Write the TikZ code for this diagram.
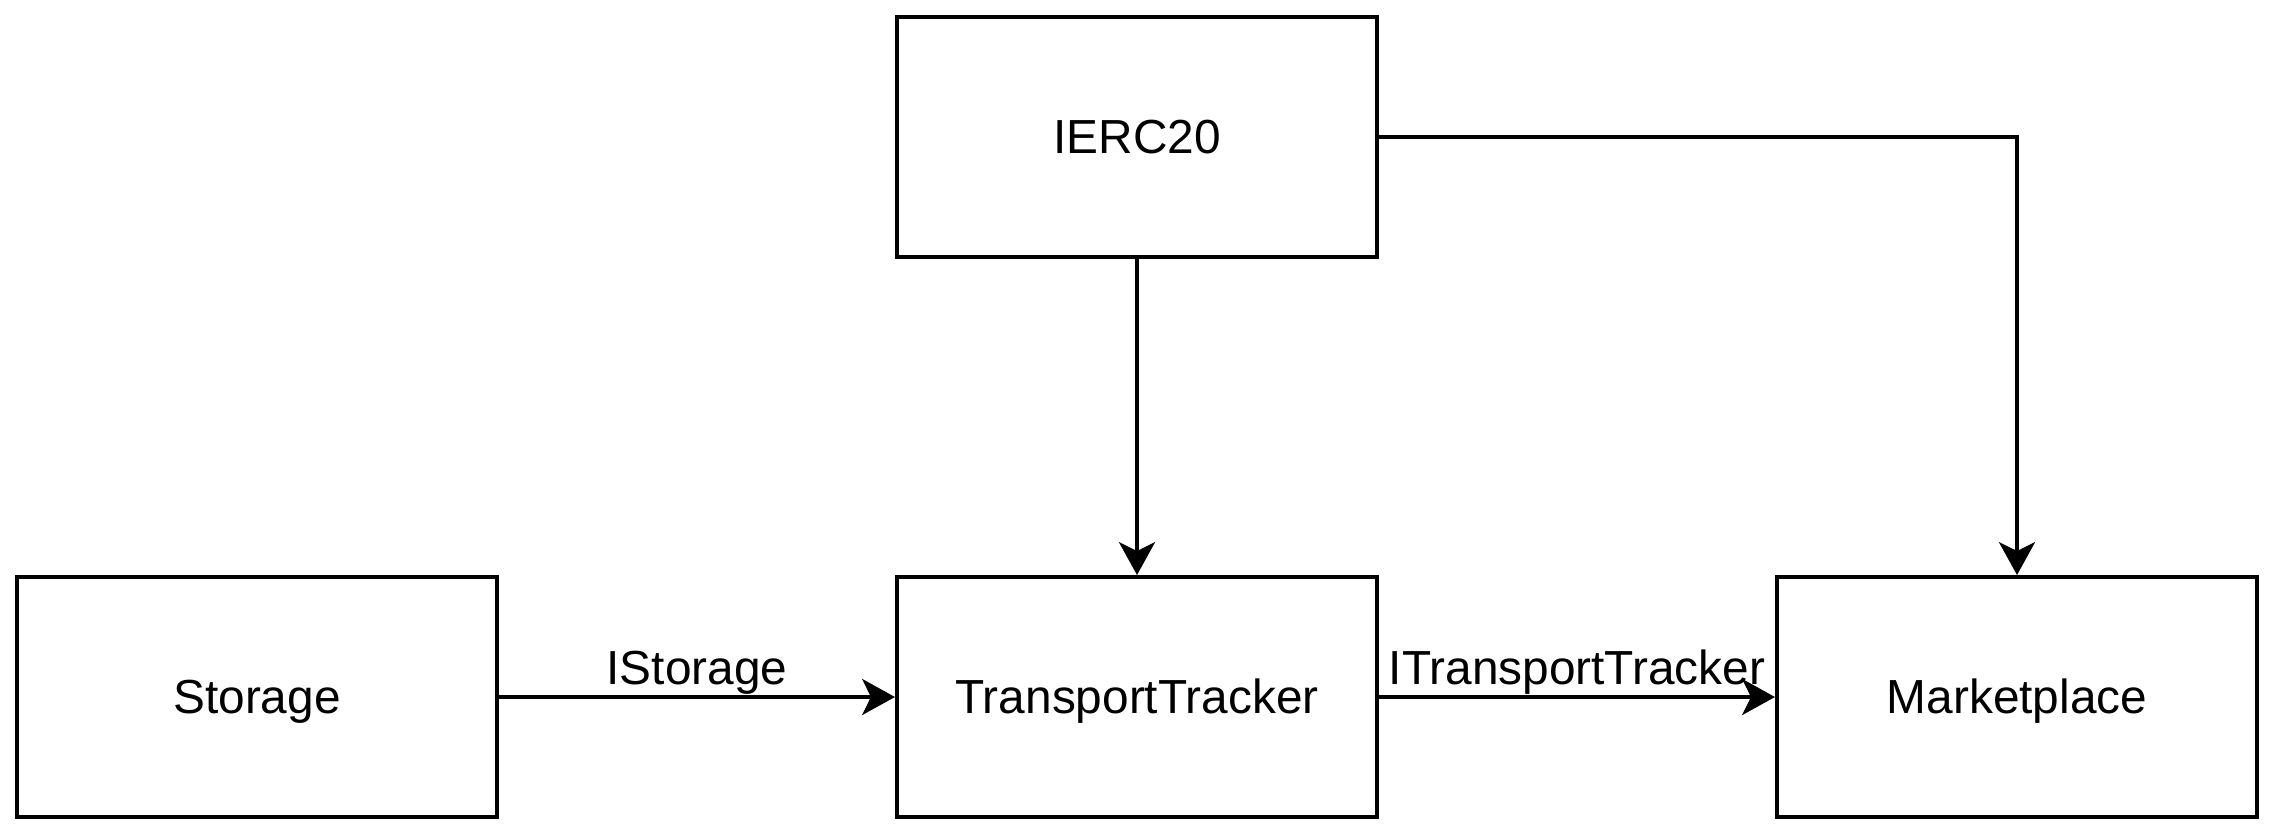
\documentclass[tikz,border=0pt]{standalone}
\usepackage{fontspec}
\setmainfont{Liberation Sans}
\usepackage{tikz}
\usetikzlibrary{arrows.meta,positioning}

\begin{document}
\begin{tikzpicture}[x=0.025cm, y=-0.025cm, >={Stealth[length=0.82cm, width=0.9cm, inset=0.22cm]},
    every node/.style={font=\fontsize{34}{40}\selectfont, align=center},
    box/.style={draw, line width=2.8pt, minimum width=12cm, minimum height=6cm, inner sep=0pt,
      text height=30pt, text depth=7pt},
    link/.style={->, line width=2.6pt}]
  \useasboundingbox (0,0) rectangle (2280,836);

  \node[box] (ierc) at (1137,137) {IERC20};
  \node[box] (storage) at (257,697) {Storage};
  \node[box] (tracker) at (1137,697) {TransportTracker};
  \node[box] (market) at (2017,697) {Marketplace};

  \draw[link] (ierc) -- (tracker);
  \draw[link] (ierc.east) -| (market.north);
  \draw[link] (storage) -- node[above=0.02cm, inner sep=0pt] (lstorage) {IStorage} (tracker);
  \draw[link] (tracker) -- node[above=0.02cm, inner sep=0pt] (ltracker) {ITransportTracker} (market);
\end{tikzpicture}
\end{document}
